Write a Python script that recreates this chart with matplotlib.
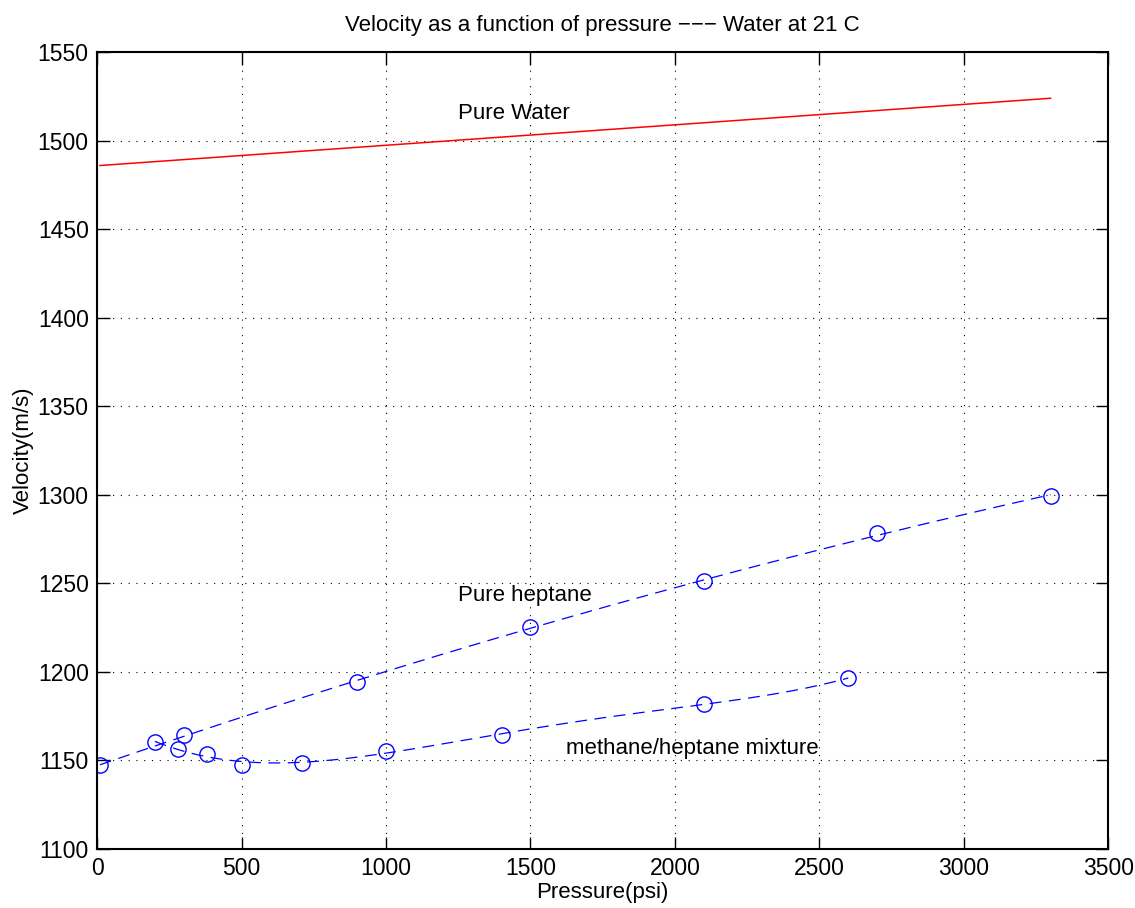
import numpy as np
import matplotlib
matplotlib.use("Agg")
import matplotlib.pyplot as plt

plt.rcParams['font.family'] = ['Liberation Sans', 'DejaVu Sans']

# speed of sound measurements (psi, m/s)
p_water = [10, 3300]
v_water = [1486, 1524]

p_heptane = [10, 300, 900, 1500, 2100, 2700, 3300]
v_heptane = [1147.4, 1164.3, 1194.2, 1225.3, 1251.2, 1278.2, 1299.6]

p_mix = [200, 280, 380, 500, 710, 1000, 1400, 2100, 2600]
v_mix = [1160.5, 1156.3, 1153.8, 1147.4, 1148.7, 1155.6, 1164.2, 1181.9, 1196.5]

fig = plt.figure(figsize=(11.35, 9.08), dpi=100)
ax = fig.add_axes([0.0855, 0.065, 0.891, 0.8775])

# fitted trend curves through the measured points
def trend(p, v, deg):
    c = np.polyfit(p, v, deg)
    xs = np.linspace(min(p), max(p), 200)
    return xs, np.polyval(c, xs)

dash = (0, (9.5, 6))
ax.plot(p_water, v_water, color='red', lw=1.1)

xs, ys = trend(p_heptane, v_heptane, 2)
ax.plot(xs, ys, color='blue', lw=0.9, linestyle=dash)
ax.plot(p_heptane, v_heptane, 'o', ms=11, mfc='none', mec='blue', mew=1.0)

xs, ys = trend(p_mix, v_mix, 4)
ax.plot(xs, ys, color='blue', lw=0.9, linestyle=dash)
ax.plot(p_mix, v_mix, 'o', ms=11, mfc='none', mec='blue', mew=1.0)

fs = 16
ax.text(1248, 1515.5, 'Pure Water', fontsize=fs, va='center')
ax.text(1248, 1243, 'Pure heptane', fontsize=fs, va='center')
ax.text(1623, 1157, 'methane/heptane mixture', fontsize=fs, va='center')

ax.set_xlim(0, 3500)
ax.set_ylim(1100, 1550)
ax.set_xticks(np.arange(0, 3501, 500))
ax.set_yticks(np.arange(1100, 1551, 50))
ax.tick_params(direction='in', length=9, width=1, labelsize=16.5,
               top=True, right=True, pad=6)
ax.grid(True, color='black', linestyle=(0, (1, 6)), lw=0.8)
for s in ax.spines.values():
    s.set_linewidth(1.5)

ax.set_title('Velocity as a function of pressure \u2212\u2212\u2212 Water at 21 C',
             fontsize=fs, pad=15)
ax.set_xlabel('Pressure(psi)', fontsize=fs, labelpad=1)
ax.set_ylabel('Velocity(m/s)', fontsize=fs, labelpad=3)

fig.savefig('out.png', dpi=100)
